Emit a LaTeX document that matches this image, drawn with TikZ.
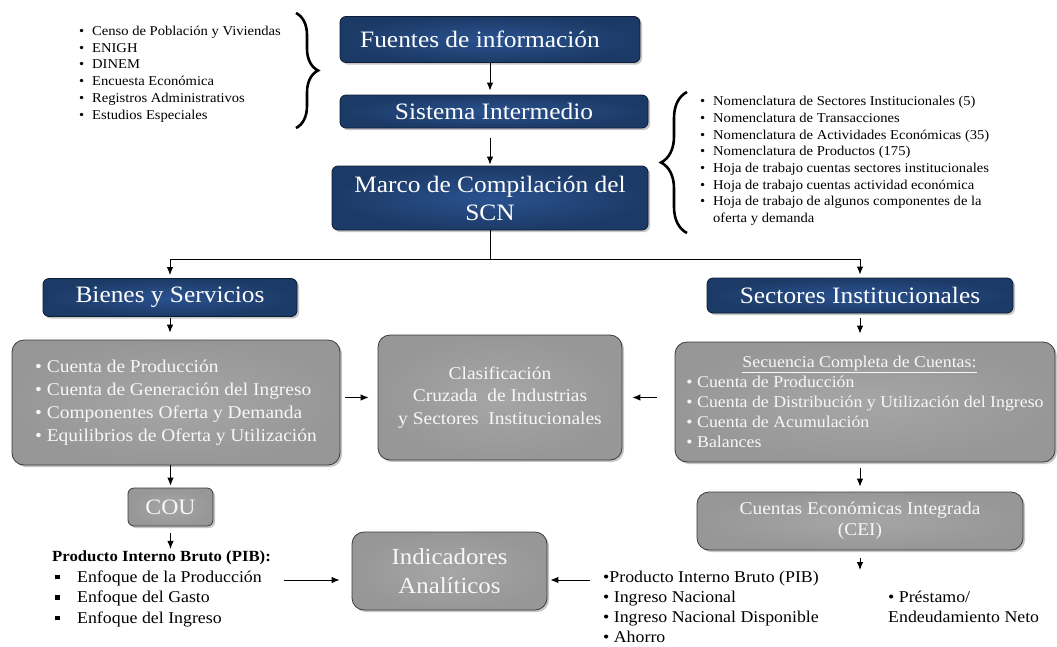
\documentclass[tikz,border=0pt]{standalone}
\usepackage{fontspec}
\setmainfont[FakeStretch=1.08]{Liberation Serif}
\usetikzlibrary{arrows.meta,shadows,decorations.pathreplacing}
\definecolor{scnblue}{HTML}{2A5290}
\definecolor{scnblueout}{HTML}{1C3A66}
\definecolor{scnedge}{HTML}{0D1B33}
\definecolor{scngray}{HTML}{A6A6A6}
\definecolor{scngrayout}{HTML}{979797}
\definecolor{scngrayedge}{HTML}{3A3A3A}
\newcommand{\itm}{\makebox[13pt][l]{\textbullet}}
\newcommand{\sqitm}{\makebox[25pt][l]{\hspace{3pt}\rule[3pt]{4.5pt}{4.5pt}}}

\begin{document}
\begin{tikzpicture}[x=1pt,y=-1pt,
  bluebox/.style={draw=scnedge,line width=0.8pt,rounded corners=6pt,
    inner color=scnblue,outer color=scnblueout,text=white,align=center,
    drop shadow={shadow xshift=2pt,shadow yshift=-2pt,opacity=0.45},
    font=\fontsize{23.5}{28}\selectfont},
  graybox/.style={draw=scngrayedge,line width=0.8pt,rounded corners=12pt,
    inner color=scngray,outer color=scngrayout,text=black!3,
    drop shadow={shadow xshift=2pt,shadow yshift=-2pt,opacity=0.45}},
  lista/.style={inner sep=0pt,anchor=west,align=left,font=\fontsize{13.5}{16.7}\selectfont},
  arr/.style={-{Latex[length=8pt,width=6.5pt]},line width=1pt},
  llave/.style={decorate,decoration={brace,amplitude=#1},line width=2.6pt}
]
\useasboundingbox (0,0) rectangle (1057,646);

\node[bluebox,minimum width=300pt,minimum height=46pt] (fuentes) at (490,39.5) {Fuentes de información\hspace{20pt}};
\node[bluebox,minimum width=308pt,minimum height=33pt] (sistema) at (494,111.5) {Sistema Intermedio};
\node[bluebox,minimum width=316pt,minimum height=64pt] (marco) at (490,198) {Marco de Compilación del\\SCN};
\node[bluebox,minimum width=254pt,minimum height=38pt] (bienes) at (170,297.5) {Bienes y Servicios};
\node[bluebox,minimum width=306pt,minimum height=35pt] (sectores) at (860,295.5) {Sectores\ Institucionales};

\node[lista] (fuenteslista) at (79,74) {\itm Censo de Población y Viviendas\\\itm ENIGH\\\itm DINEM\\
  \itm Encuesta Económica\\\itm Registros Administrativos\\\itm Estudios Especiales};
\node[lista] (intermediolista) at (700,161) {\itm Nomenclatura de Sectores Institucionales (5)\\
  \itm Nomenclatura de Transacciones\\\itm Nomenclatura de Actividades Económicas (35)\\
  \itm Nomenclatura de Productos (175)\\\itm Hoja de trabajo cuentas sectores institucionales\\
  \itm Hoja de trabajo cuentas actividad económica\\\itm Hoja de trabajo de algunos componentes de la\\
  \hspace*{13pt}oferta y demanda};
\draw[llave=22pt] (296,13) -- (296,128);
\draw[llave=26pt] (687,233) -- (687,92);

\node[graybox,minimum width=328pt,minimum height=125pt,align=left,font=\fontsize{18}{23}\selectfont]
  (cuentasbs) at (176,402.5) {\textbullet\ Cuenta de Producción\\\textbullet\ Cuenta de Generación del Ingreso\\
  \textbullet\ Componentes Oferta y Demanda\\\textbullet\ Equilibrios de Oferta y Utilización};
\node[graybox,minimum width=244pt,minimum height=125pt,align=center,font=\fontsize{18}{22.5}\selectfont]
  (clasif) at (500,397.5) {Clasificación\\Cruzada\ \ de Industrias\\y Sectores\ \ Institucionales};
\node[graybox,minimum width=380pt,minimum height=120pt,align=left,font=\fontsize{16.5}{20}\selectfont]
  (secuencia) at (865,402) {\hspace*{56pt}\underline{Secuencia Completa de Cuentas:}\\
  \textbullet\ Cuenta de Producción\\\textbullet\ Cuenta de Distribución y Utilización del Ingreso\\
  \textbullet\ Cuenta de Acumulación\\\textbullet\ Balances};
\node[graybox,minimum width=326pt,minimum height=58pt,align=center,font=\fontsize{18}{21}\selectfont]
  (cei) at (860,521) {Cuentas Económicas Integrada\\(CEI)};
\node[graybox,rounded corners=6pt,minimum width=85pt,minimum height=38pt,font=\fontsize{22}{26}\selectfont]
  (cou) at (170.5,507) {COU};
\node[graybox,minimum width=195pt,minimum height=78pt,align=center,font=\fontsize{23}{29}\selectfont]
  (indic) at (449.5,571) {Indicadores\\Analíticos};

\node[lista,font=\fontsize{16.5}{20.5}\selectfont] (piblista) at (52,589)
  {{\fontsize{15.5}{20.5}\selectfont\bfseries Producto Interno Bruto (PIB):}\\
  \sqitm Enfoque de la Producción\\\sqitm Enfoque del Gasto\\\sqitm Enfoque del Ingreso};
\node[lista,font=\fontsize{16.5}{20}\selectfont] (cuentaslista) at (603,607)
  {\textbullet Producto Interno Bruto (PIB)\\\textbullet\ Ingreso Nacional\\
  \textbullet\ Ingreso Nacional Disponible\\\textbullet\ Ahorro};
\node[lista,font=\fontsize{16.5}{20}\selectfont] (prestamo) at (888,607) {\textbullet\ Préstamo/\\Endeudamiento Neto};
\coordinate (ceiflecha) at (860,570);

\draw[arr,shorten >=4pt] (fuentes.south) -- (fuentes.south |- sistema.north);
\draw[arr,shorten <=10pt,shorten >=1pt] (sistema.south -| marco.north) -- (marco.north);
\draw[arr,shorten >=3pt] (marco.south) -- ++(0,29) -| (bienes.north);
\draw[arr,shorten >=3pt] (marco.south) -- ++(0,29) -| (sectores.north);
\draw[arr,shorten <=1pt,shorten >=7pt] (bienes.south) -- (bienes.south |- cuentasbs.north);
\draw[arr,shorten <=5pt,shorten >=9pt] (cuentasbs.east |- clasif.west) -- (clasif.west);
\draw[arr,shorten <=18pt,shorten >=10pt] (secuencia.west |- clasif.east) -- (clasif.east);
\draw[arr,shorten <=5pt,shorten >=8pt] (sectores.south) -- (sectores.south |- secuencia.north);
\draw[arr,shorten <=6pt,shorten >=5pt] (cei.north |- secuencia.south) -- (cei.north);
\draw[arr,shorten <=8pt] (cei.south) -- (ceiflecha);
\draw[arr,shorten >=2pt] (cuentasbs.south -| cou.north) -- (cou.north);
\draw[arr,shorten <=7pt,shorten >=2pt] (cou.south) -- (cou.south |- piblista.north);
\draw[arr,shorten <=13pt,shorten >=12pt] ([yshift=-9pt]indic.west -| piblista.east) -- ([yshift=-9pt]indic.west);
\draw[arr,shorten <=13pt,shorten >=3pt] ([yshift=-9pt]indic.east -| cuentaslista.west) -- ([yshift=-9pt]indic.east);
\end{tikzpicture}
\end{document}
